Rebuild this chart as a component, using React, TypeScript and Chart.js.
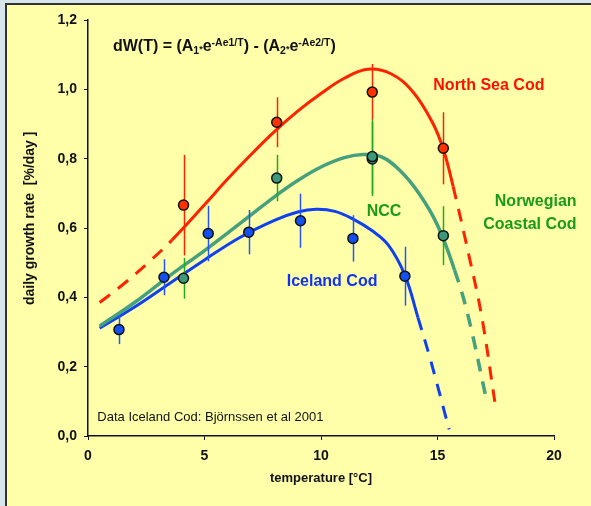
import React, { useEffect, useRef } from 'react';
import { Chart, registerables } from 'chart.js';

Chart.register(...registerables);

// ---- axis ticks ----
const xTicks = [0, 5, 10, 15, 20];
const yTicks = [0, 0.2, 0.4, 0.6, 0.8, 1.0, 1.2];

// ---- North Sea Cod observations ----
const nscX = [4.1, 8.1, 12.2, 15.25];
const nscY = [0.666, 0.905, 0.992, 0.83];
const nscErr = [0.145, 0.072, 0.081, 0.104];

// ---- Norwegian Coastal Cod observations ----
const nccX = [4.1, 8.1, 12.2, 12.2, 15.25];
const nccY = [0.455, 0.744, 0.799, 0.806, 0.578];
const nccErr = [0.059, 0.067, 0.107, 0.107, 0.085];

// ---- Iceland Cod observations ----
const iceX = [1.33, 3.26, 5.16, 6.9, 9.12, 11.37, 13.6];
const iceY = [0.307, 0.458, 0.584, 0.588, 0.621, 0.57, 0.461];
const iceErr = [0.042, 0.052, 0.08, 0.064, 0.078, 0.067, 0.085];

// ---- model curves ----
const nscCurveX = [0.5, 1.5, 2.5, 3.6, 5, 6, 7, 8, 9, 10, 11, 12, 13, 13.94, 14.8, 15.26, 15.67, 16.39, 16.9, 17.46];
const nscCurveY = [0.385, 0.437, 0.495, 0.565, 0.667, 0.742, 0.812, 0.878, 0.937, 0.988, 1.032, 1.058, 1.045, 0.993, 0.902, 0.825, 0.72, 0.508, 0.344, 0.099];
const nscSolidFrom = 3.6;
const nscSolidTo = 15.67;

const nccCurveX = [0.5, 2, 3.5, 5, 6.5, 8, 9, 10, 11, 11.8, 12.6, 13.4, 14.2, 15, 15.73, 16.3, 17.12];
const nccCurveY = [0.317, 0.385, 0.462, 0.535, 0.612, 0.69, 0.737, 0.776, 0.803, 0.812, 0.805, 0.765, 0.7, 0.608, 0.479, 0.35, 0.099];
const nccSolidFrom = 0;
const nccSolidTo = 15.73;

const iceCurveX = [0.5, 2, 3.5, 5, 6.5, 8, 9, 9.8, 10.6, 11.4, 12.2, 12.9, 13.6, 14.16, 14.66, 15.5];
const iceCurveY = [0.311, 0.372, 0.44, 0.508, 0.572, 0.622, 0.646, 0.654, 0.648, 0.625, 0.592, 0.55, 0.464, 0.342, 0.229, 0.019];
const iceSolidFrom = 0;
const iceSolidTo = 14.16;

// ---- texts ----
const xTitle = 'temperature [°C]';
const yTitle = 'daily growth rate  [%/day ]';
const sourceNote = 'Data Iceland Cod: Björnssen et al 2001';

const FONT = "'Liberation Sans', Arial, Helvetica, sans-serif";
const RED = '#FF2200';
const TEAL = '#45A07E';
const GREEN = '#1A9A1A';
const BLUE = '#1040F0';

const toPts = (xs: number[], ys: number[]) => xs.map((x, i) => ({ x, y: ys[i] }));

const DASH = [13, 10];
const dashSeg = (from: number, to: number) => (ctx: any) =>
  ctx.p0.parsed.x < from - 1e-9 || ctx.p1.parsed.x > to + 1e-9 ? DASH : undefined;

const curveDs = (xs: number[], ys: number[], color: string, width: number, from: number, to: number) => ({
  data: toPts(xs, ys),
  borderColor: color,
  borderWidth: width,
  pointRadius: 0,
  showLine: true,
  fill: false,
  tension: 0.4,
  segment: { borderDash: dashSeg(from, to) },
  order: 2,
});

const pointDs = (xs: number[], ys: number[], errs: number[], fillColor: string, barColor: string) => ({
  data: toPts(xs, ys),
  showLine: false,
  pointRadius: 5,
  pointBorderWidth: 1.5,
  pointBorderColor: '#111',
  pointBackgroundColor: fillColor,
  errors: errs,
  errorColor: barColor,
  order: 1,
});

const errorBarPlugin = {
  id: 'errorBars',
  beforeDatasetDraw(chart: any, args: any) {
    const ds = chart.data.datasets[args.index];
    if (!ds.errors) return;
    const { ctx } = chart;
    const xs = chart.scales.x;
    const ys = chart.scales.y;
    ctx.save();
    ctx.strokeStyle = ds.errorColor;
    ctx.lineWidth = 1.5;
    ds.data.forEach((p: any, i: number) => {
      const e = ds.errors[i];
      const px = Math.round(xs.getPixelForValue(p.x)) + 0.5;
      ctx.beginPath();
      ctx.moveTo(px, ys.getPixelForValue(p.y + e));
      ctx.lineTo(px, ys.getPixelForValue(p.y - e));
      ctx.stroke();
    });
    ctx.restore();
  },
};

const labelPlugin = {
  id: 'labels',
  afterDatasetsDraw(chart: any) {
    const { ctx } = chart;
    const xs = chart.scales.x;
    const ys = chart.scales.y;
    const X = (v: number) => xs.getPixelForValue(v);
    const Y = (v: number) => ys.getPixelForValue(v);
    ctx.save();

    const txt = (t: string, x: number, y: number, color: string, font: string, align: CanvasTextAlign = 'left') => {
      ctx.font = font;
      ctx.fillStyle = color;
      ctx.textAlign = align;
      ctx.textBaseline = 'middle';
      ctx.fillText(t, x, y);
    };

    // curve labels
    txt('North Sea Cod', X(14.82), Y(1.01), '#FF1100', `bold 16px ${FONT}`);
    txt('Norwegian', X(20.97), Y(0.676), GREEN, `bold 16px ${FONT}`, 'right');
    txt('Coastal Cod', X(20.97), Y(0.611), GREEN, `bold 16px ${FONT}`, 'right');
    txt('NCC', X(11.96), Y(0.647), GREEN, `bold 16px ${FONT}`);
    txt('Iceland Cod', X(8.53), Y(0.445), '#1133EE', `bold 16px ${FONT}`);
    txt(sourceNote, X(0.4), Y(0.054), '#111', `13px ${FONT}`);

    // y-axis title
    ctx.save();
    ctx.translate(chart.chartArea.left - 58, Y(0.628));
    ctx.rotate(-Math.PI / 2);
    txt(yTitle, 0, 0, '#111', `bold 14px ${FONT}`, 'center');
    ctx.restore();

    // formula
    const parts: { t: string; size: number; dy: number }[] = [
      { t: 'dW(T) = (A', size: 16, dy: 0 },
      { t: '1', size: 10.5, dy: 3 },
      { t: '*', size: 9, dy: 1 },
      { t: 'e', size: 16, dy: 0 },
      { t: '-Ae1/T', size: 10.5, dy: -5 },
      { t: ') - (A', size: 16, dy: 0 },
      { t: '2', size: 10.5, dy: 3 },
      { t: '*', size: 9, dy: 1 },
      { t: 'e', size: 16, dy: 0 },
      { t: '-Ae2/T', size: 10.5, dy: -5 },
      { t: ')', size: 16, dy: 0 },
    ];
    let fx = X(1.07);
    const fy = Y(1.11);
    ctx.textBaseline = 'alphabetic';
    ctx.textAlign = 'left';
    ctx.fillStyle = '#111';
    parts.forEach((p) => {
      ctx.font = `bold ${p.size}px ${FONT}`;
      ctx.fillText(p.t, fx, fy + p.dy);
      fx += ctx.measureText(p.t).width;
    });

    ctx.restore();
  },
};

export default function App() {
  const ref = useRef<HTMLCanvasElement>(null);

  useEffect(() => {
    if (!ref.current) return;
    const tickFont = { family: FONT, weight: 'bold' as const, size: 14 };
    const chart = new Chart(ref.current, {
      type: 'line',
      data: {
        datasets: [
          curveDs(nscCurveX, nscCurveY, RED, 3, nscSolidFrom, nscSolidTo),
          curveDs(nccCurveX, nccCurveY, TEAL, 3.5, nccSolidFrom, nccSolidTo),
          curveDs(iceCurveX, iceCurveY, BLUE, 3, iceSolidFrom, iceSolidTo),
          pointDs(iceX, iceY, iceErr, '#1450F0', '#2255FF'),
          pointDs(nccX, nccY, nccErr, '#3C9A7A', '#22AA22'),
          pointDs(nscX, nscY, nscErr, '#FF3300', '#FF2200'),
        ] as any,
      },
      options: {
        responsive: false,
        animation: false,
        events: [],
        layout: { padding: { left: 0, top: 20, right: 37, bottom: 0 } },
        plugins: { legend: { display: false }, tooltip: { enabled: false } },
        scales: {
          x: {
            type: 'linear',
            min: 0,
            max: 20,
            afterBuildTicks: (s: any) => {
              s.ticks = xTicks.map((v) => ({ value: v }));
            },
            afterFit: (s: any) => {
              s.height = 70;
            },
            grid: { drawOnChartArea: false, drawTicks: true, tickLength: 4, color: '#111', lineWidth: 1 },
            border: { display: true, color: '#111', width: 1.5 },
            ticks: { color: '#111', font: tickFont, padding: 8, maxRotation: 0, autoSkip: false },
            title: {
              display: true,
              text: xTitle,
              color: '#111',
              font: { family: FONT, weight: 'bold', size: 13 },
              padding: { top: 0, bottom: 20 },
            },
          },
          y: {
            type: 'linear',
            min: 0,
            max: 1.2,
            afterBuildTicks: (s: any) => {
              s.ticks = yTicks.map((v) => ({ value: v }));
            },
            afterFit: (s: any) => {
              s.width = 88;
            },
            grid: { drawOnChartArea: false, drawTicks: true, tickLength: 4, color: '#111', lineWidth: 1 },
            border: { display: true, color: '#111', width: 1.5 },
            ticks: {
              color: '#111',
              font: tickFont,
              padding: 7,
              autoSkip: false,
              callback: (v: any) => Number(v).toFixed(1).replace('.', ','),
            },
          },
        },
      },
      plugins: [errorBarPlugin, labelPlugin],
    } as any);
    return () => chart.destroy();
  }, []);

  return (
    <div
      style={{
        position: 'fixed',
        left: 0,
        top: 0,
        width: 591,
        height: 506,
        background: '#D6E6EA',
        overflow: 'hidden',
      }}
    >
      <div
        style={{
          position: 'absolute',
          left: 5,
          top: 3,
          right: 0,
          bottom: 0,
          background: '#FFFFAA',
          borderLeft: '2px solid #333',
          borderTop: '2px solid #333',
        }}
      />
      <canvas
        ref={ref}
        width={591}
        height={506}
        style={{ position: 'absolute', left: 0, top: 0, width: 591, height: 506 }}
      />
    </div>
  );
}
